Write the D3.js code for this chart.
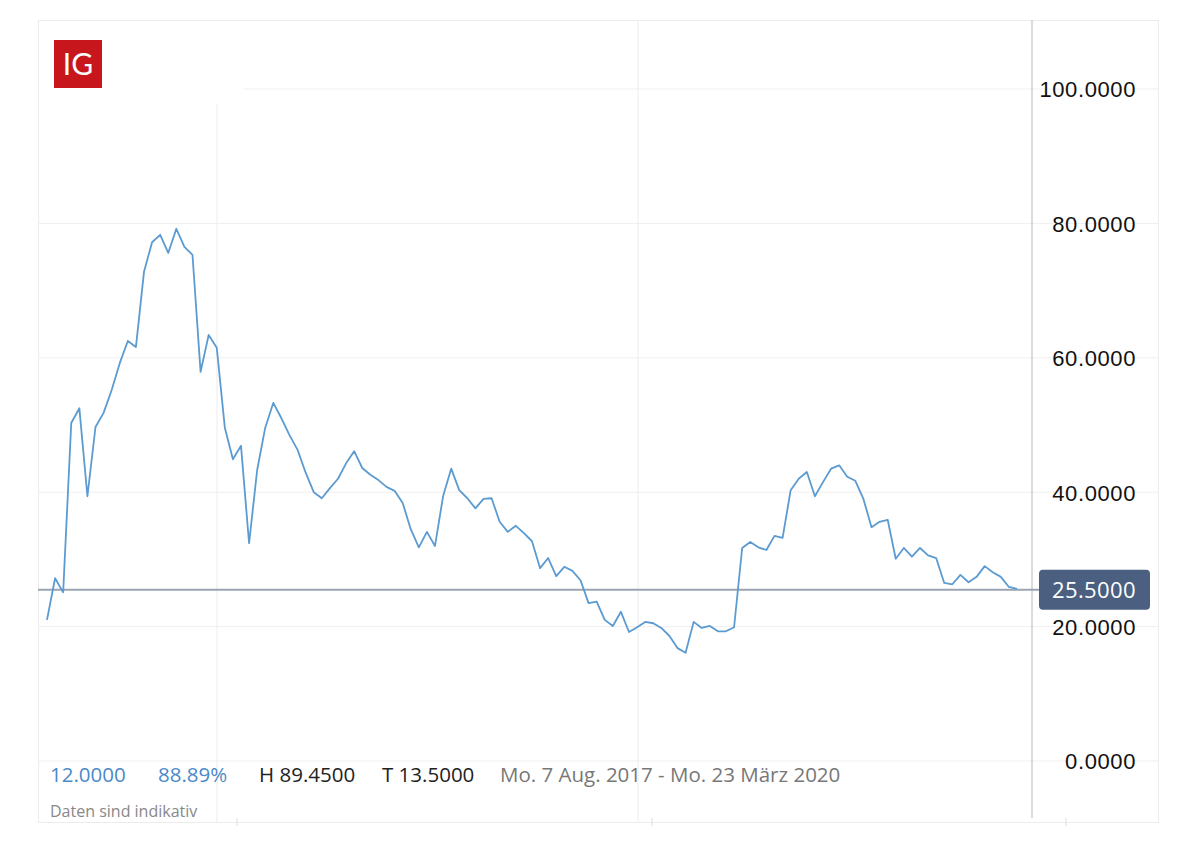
<!DOCTYPE html>
<html><head><meta charset="utf-8">
<script src="https://cdn.jsdelivr.net/npm/d3@7"></script>
<style>body{margin:0;background:#fff}svg{font-family:"Open Sans","Noto Sans",sans-serif}</style>
</head><body><svg id="c" width="1200" height="844"></svg>
<script>
const values = [21.0,27.2,25.1,50.3,52.5,39.4,49.7,51.8,55.2,59.2,62.5,61.6,72.8,77.2,78.3,75.6,79.2,76.5,75.3,57.9,63.4,61.5,49.6,44.9,46.9,32.4,43.3,49.6,53.3,51.0,48.5,46.3,42.9,40.0,39.1,40.6,42.0,44.3,46.1,43.6,42.6,41.8,
40.8,40.2,38.4,34.5,31.8,34.1,32.0,39.4,43.5,40.3,39.1,37.6,39.0,39.1,35.6,34.1,35.0,33.9,32.7,28.7,30.2,27.5,28.9,28.3,26.9,23.5,23.7,21.0,20.1,22.2,19.2,19.9,20.7,20.5,19.8,18.6,16.8,16.1,20.7,19.8,20.1,19.3,
19.3,19.9,31.7,32.6,31.8,31.4,33.5,33.2,40.3,42.0,43.0,39.4,41.5,43.5,44.0,42.3,41.7,39.0,34.8,35.6,35.9,30.1,31.7,30.4,31.7,30.6,30.2,26.5,26.3,27.7,26.6,27.4,29.0,28.1,27.4,25.9,25.6];
const yTicks = [0,20,40,60,80,100];
const lastValue = 25.5;
const stats = [{t:"12.0000",c:"#4a8ac9"},{t:"88.89%",c:"#4a8ac9"},{t:"H 89.4500",c:"#222"},{t:"T 13.5000",c:"#222"},{t:"Mo. 7 Aug. 2017 - Mo. 23 März 2020",c:"#777"}];
const note = "Daten sind indikativ";

const svg = d3.select("#c");
const x = d3.scaleLinear().domain([0, values.length-1]).range([47,1017]);
const y = d3.scaleLinear().domain([0,100]).range([761,89]);

svg.append("rect").attr("x",38.5).attr("y",20.5).attr("width",1120).attr("height",802).attr("fill","none").attr("stroke","#ececec");
yTicks.forEach(t=>{
  svg.append("line").attr("x1",t===100?244:38).attr("x2",1158).attr("y1",y(t)).attr("y2",y(t)).attr("stroke","#efefef");
});
svg.append("line").attr("x1",217).attr("x2",217).attr("y1",104).attr("y2",822).attr("stroke","#ececec");
svg.append("line").attr("x1",638).attr("x2",638).attr("y1",20).attr("y2",822).attr("stroke","#ececec");
svg.append("line").attr("x1",1032).attr("x2",1032).attr("y1",20).attr("y2",818).attr("stroke","#cfcfcf").attr("stroke-width",1.5);
[237,652,1066].forEach(px=>svg.append("line").attr("x1",px).attr("x2",px).attr("y1",818).attr("y2",826).attr("stroke","#ddd"));

const ax = svg.append("g").attr("transform","translate(1136,0)")
  .call(d3.axisRight(y).tickValues(yTicks).tickSize(0).tickFormat(d3.format(".4f")));
ax.select(".domain").remove();
ax.selectAll("text").attr("x",0).attr("dy","0.36em").attr("text-anchor","end").attr("font-size",22).attr("letter-spacing",0.6).attr("fill","#111");

svg.append("line").attr("x1",38).attr("x2",1040).attr("y1",y(lastValue)).attr("y2",y(lastValue)).attr("stroke","#9aa4b2").attr("stroke-width",2);

svg.append("path").datum(values).attr("fill","none").attr("stroke","#5b9bd1").attr("stroke-width",1.8)
  .attr("stroke-linejoin","round")
  .attr("d",d3.line().x((d,i)=>x(i)).y(d=>y(d)));

svg.append("rect").attr("x",1039).attr("y",y(lastValue)-20).attr("width",111).attr("height",40).attr("rx",4).attr("fill","#4b6080");
svg.append("text").attr("x",1136).attr("y",y(lastValue)+8).attr("text-anchor","end").attr("font-size",22).attr("letter-spacing",0.4).attr("fill","#fff").text(d3.format(".4f")(lastValue));

svg.append("rect").attr("x",54).attr("y",40).attr("width",48).attr("height",48).attr("fill","#c8161d");
svg.append("text").attr("x",78).attr("y",75).attr("text-anchor","middle").attr("font-size",30).attr("fill","#fff").attr("font-family","Lato, sans-serif").text("IG");

const sx = [50,158,259,382,500];
stats.forEach((s,i)=>svg.append("text").attr("x",sx[i]).attr("y",782).attr("font-size",20.5).attr("fill",s.c).text(s.t));
svg.append("text").attr("x",50).attr("y",817).attr("font-size",16).attr("fill","#888").text(note);
</script></body></html>
